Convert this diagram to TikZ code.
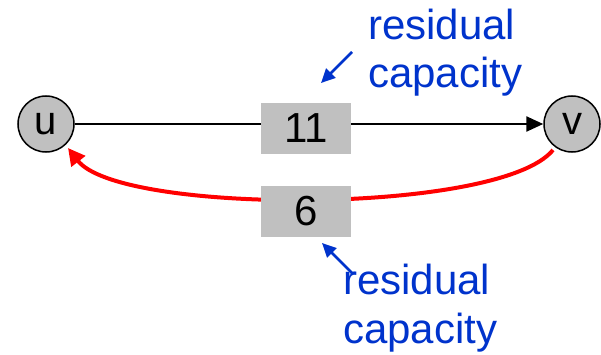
\documentclass[tikz,border=0pt]{standalone}
\usepackage{fontspec}
\setmainfont{Liberation Sans}
\usetikzlibrary{arrows.meta}
\definecolor{boxgray}{RGB}{192,192,192}
\definecolor{lblue}{RGB}{0,51,204}
\definecolor{cred}{RGB}{255,0,0}
\begin{document}
\begin{tikzpicture}[x=1pt,y=1pt,
  vertex/.style={circle,draw=black,line width=1.5pt,fill=boxgray,minimum size=56pt,inner sep=0pt,font=\fontsize{40}{40}\selectfont},
  capbox/.style={rectangle,fill=boxgray,minimum width=90pt,minimum height=51pt,inner sep=0pt,font=\fontsize{42}{42}\selectfont},
  lbl/.style={align=left,inner sep=0pt,text=lblue,font=\fontsize{42}{49}\selectfont},
  tip/.style={-{Triangle[length=17pt,width=15pt]}}
]
\useasboundingbox (0,0) rectangle (601,354);
\node[vertex] (u) at (46,230) {u};
\node[vertex] (v) at (572,230) {v};
\draw[line width=2.5pt,tip] (u) -- (v);
\coordinate (vs) at (553,204);
\coordinate (ue) at (68,206);
\draw[line width=4pt,cred,-{Triangle[length=17pt,width=17pt]}]
  (vs) .. controls (500,139) and (120,139) .. (ue);
\node[capbox] (b11) at (306,226) {11};
\node[capbox] (b6) at (306,143) {6};
\node[lbl,anchor=base west] (t1) at (368,266) {residual\\capacity};
\node[lbl,anchor=base west] (t2) at (343,11) {residual\\capacity};
\coordinate (a1s) at (352,302);
\coordinate (a1e) at (321,271);
\coordinate (a2s) at (353,80);
\coordinate (a2e) at (322,111);
\draw[lblue,line width=2.5pt,-{Triangle[length=14pt,width=13pt]}] (a1s) -- (a1e);
\draw[lblue,line width=2.5pt,-{Triangle[length=14pt,width=13pt]}] (a2s) -- (a2e);
\end{tikzpicture}
\end{document}
